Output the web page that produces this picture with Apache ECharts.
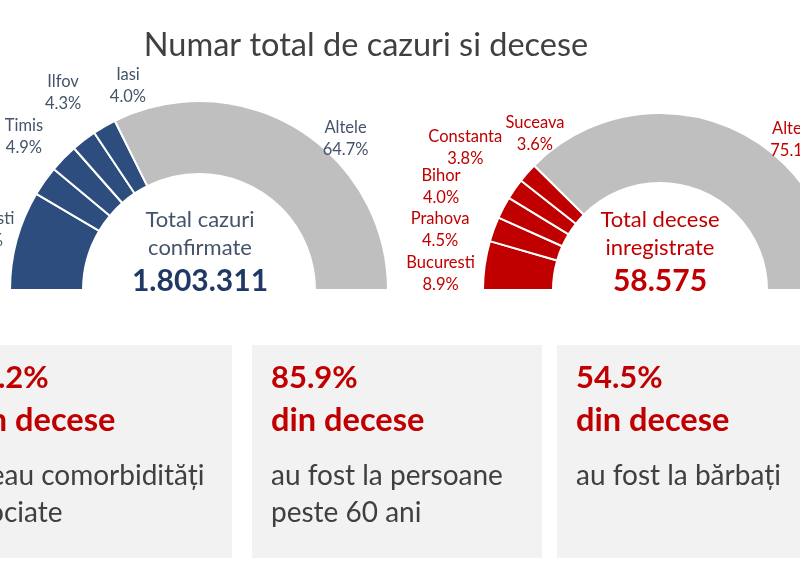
<!DOCTYPE html>
<html>
<head>
<meta charset="utf-8">
<script src="https://cdn.jsdelivr.net/npm/echarts@6/dist/echarts.min.js"></script>
<style>
  html, body { margin: 0; padding: 0; background: #ffffff; }
  #chart { width: 800px; height: 574px; }
</style>
</head>
<body>
<div id="chart"></div>
<script>
// ---- data ----
const casesRegions = ['Bucuresti', 'Cluj', 'Timis', 'Ilfov', 'Iasi', 'Altele'];
const casesShare   = [17.0, 5.1, 4.9, 4.3, 4.0, 64.7];
const deathsRegions = ['Bucuresti', 'Prahova', 'Bihor', 'Constanta', 'Suceava', 'Altele'];
const deathsShare   = [8.9, 4.5, 4.0, 3.8, 3.6, 75.1];
const totalCases  = '1.803.311';
const totalDeaths = '58.575';
const factPercent = ['93.2%', '85.9%', '54.5%'];
const factHead    = ['din decese', 'din decese', 'din decese'];
const factBody    = [['aveau comorbidități', 'asociate'], ['au fost la persoane', 'peste 60 ani'], ['au fost la bărbați']];

// ---- style ----
const FONT = 'Lato';
const BLUE = '#2c4d7d', RED = '#c00000', GREY = '#bfbfbf';
const LEFT_C = [199, 290], LEFT_R = [116, 189];
const RIGHT_C = [660, 290], RIGHT_R = [107, 177];
// label placement as polar (angle deg, radius px) around each donut centre
const labelPolar = [
  [[164.6, 227], [156.3, 262], [138.7, 233], [124.5, 240], [109.2, 216], [46.0, 211]],
  [[175.8, 220], [164.7, 228], [154.8, 242], [143.9, 241], [128.7, 200], [48.5, 201]]
];

function pieData(names, vals, accent) {
  return names.map((n, i) => ({
    name: n, value: vals[i],
    itemStyle: { color: n === 'Altele' ? GREY : accent }
  }));
}

function pieSeries(idx, names, vals, accent, center, radius, labelColor) {
  return {
    type: 'pie',
    center: center,
    radius: radius,
    startAngle: 180,
    endAngle: 0,
    clockwise: true,
    silent: true,
    animation: false,
    avoidLabelOverlap: false,
    itemStyle: { borderColor: '#ffffff', borderWidth: 2 },
    label: {
      show: true,
      position: 'outside',
      overflow: 'none',
      formatter: p => p.name + '\n' + p.value.toFixed(1) + '%',
      fontFamily: FONT,
      fontSize: 16.5,
      lineHeight: 22,
      color: labelColor
    },
    labelLine: { show: false, length: 10, length2: 0 },
    labelLayout: function (p) {
      const pol = labelPolar[idx][p.dataIndex];
      const a = pol[0] * Math.PI / 180;
      return {
        x: center[0] + pol[1] * Math.cos(a),
        y: center[1] - pol[1] * Math.sin(a),
        align: 'center',
        verticalAlign: 'middle'
      };
    },
    data: pieData(names, vals, accent)
  };
}

const graphics = [];
// title
graphics.push({
  type: 'text', x: 366, y: 46,
  style: { text: 'Numar total de cazuri si decese', fontFamily: FONT, fontSize: 32.5,
           fill: '#404040', align: 'center', verticalAlign: 'middle' }
});
// centre texts
function centreText(cx, lines, color, boldColor, big) {
  graphics.push({ type: 'text', x: cx, y: 220, style: { text: lines[0], fontFamily: FONT, fontSize: 22, fill: color, align: 'center', verticalAlign: 'middle' } });
  graphics.push({ type: 'text', x: cx, y: 248, style: { text: lines[1], fontFamily: FONT, fontSize: 22, fill: color, align: 'center', verticalAlign: 'middle' } });
  graphics.push({ type: 'text', x: cx, y: 281, style: { text: big, fontFamily: FONT, fontSize: 30, fontWeight: 'bold', fill: boldColor, align: 'center', verticalAlign: 'middle' } });
}
centreText(200, ['Total cazuri', 'confirmate'], '#44546a', '#1f3864', totalCases);
centreText(660, ['Total decese', 'inregistrate'], RED, RED, totalDeaths);

// fact boxes
const boxes = [[-57, 232], [252, 542], [557, 840]];
boxes.forEach((b, i) => {
  graphics.push({ type: 'rect', shape: { x: b[0], y: 345, width: b[1] - b[0], height: 213 }, style: { fill: '#f2f2f2' }, z: 0 });
  const tx = b[0] + 19;
  graphics.push({ type: 'text', x: tx, y: 378, z: 1, style: { text: factPercent[i], fontFamily: FONT, fontSize: 31, fontWeight: 'bold', fill: RED, verticalAlign: 'middle' } });
  graphics.push({ type: 'text', x: tx, y: 420, z: 1, style: { text: factHead[i], fontFamily: FONT, fontSize: 32.6, fontWeight: 'bold', fill: RED, verticalAlign: 'middle' } });
  factBody[i].forEach((ln, j) => {
    graphics.push({ type: 'text', x: tx, y: 476 + j * 37, z: 1, style: { text: ln, fontFamily: FONT, fontSize: 28, fill: '#404040', verticalAlign: 'middle' } });
  });
});

const chart = echarts.init(document.getElementById('chart'), null, { renderer: 'canvas' });
chart.setOption({
  backgroundColor: '#ffffff',
  animation: false,
  graphic: graphics,
  series: [
    pieSeries(0, casesRegions, casesShare, BLUE, LEFT_C, LEFT_R, '#44546a'),
    pieSeries(1, deathsRegions, deathsShare, RED, RIGHT_C, RIGHT_R, RED)
  ]
});
</script>
</body>
</html>
